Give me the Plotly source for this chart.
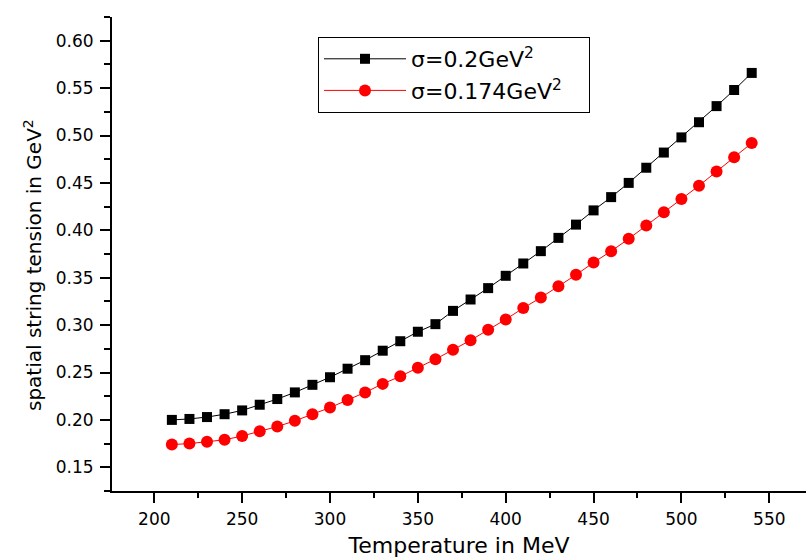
import plotly.graph_objects as go

temperature = [210, 220, 230, 240, 250, 260, 270, 280, 290, 300, 310, 320, 330, 340, 350, 360, 370,
               380, 390, 400, 410, 420, 430, 440, 450, 460, 470, 480, 490, 500, 510, 520, 530, 540]
tension_02 = [0.200, 0.201, 0.203, 0.206, 0.210, 0.216, 0.222, 0.229, 0.237, 0.245, 0.254, 0.263,
              0.273, 0.283, 0.293, 0.301, 0.315, 0.327, 0.339, 0.352, 0.365, 0.378, 0.392, 0.406,
              0.421, 0.435, 0.450, 0.466, 0.482, 0.498, 0.514, 0.531, 0.548, 0.566]
tension_0174 = [0.174, 0.175, 0.177, 0.179, 0.183, 0.188, 0.193, 0.199, 0.206, 0.213, 0.221, 0.229,
                0.238, 0.246, 0.255, 0.264, 0.274, 0.284, 0.295, 0.306, 0.318, 0.329, 0.341, 0.353,
                0.366, 0.378, 0.391, 0.405, 0.419, 0.433, 0.447, 0.462, 0.477, 0.492]
series_names = ["σ=0.2GeV<sup>2</sup>", "σ=0.174GeV<sup>2</sup>"]
x_ticks = [200, 250, 300, 350, 400, 450, 500, 550]
y_ticks = [0.15, 0.20, 0.25, 0.30, 0.35, 0.40, 0.45, 0.50, 0.55, 0.60]
x_title = "Temperature in MeV"
y_title = "spatial string tension in GeV<sup>2</sup>"

FONT = "DejaVu Sans, Liberation Sans, Arial, sans-serif"
L, T, W, H = 112, 17, 806, 558
B = 67
LEGEND_PAD = "\u2002\u2002"  # widens the legend box to the reference's width

fig = go.Figure()
fig.add_trace(go.Scatter(
    x=temperature, y=tension_02, name=series_names[0], mode="lines+markers",
    line=dict(color="black", width=1),
    marker=dict(symbol="square", size=10, color="black"),
))
fig.add_trace(go.Scatter(
    x=temperature, y=tension_0174, name=series_names[1] + LEGEND_PAD, mode="lines+markers",
    line=dict(color="red", width=1),
    marker=dict(symbol="circle", size=12, color="red"),
))

axis_common = dict(
    showgrid=False, zeroline=False, showline=True, linecolor="black", linewidth=2,
    ticks="outside", tickcolor="black", tickwidth=2, ticklen=10,
    tickfont=dict(family=FONT, size=17, color="black"),
)

fig.update_xaxes(
    range=[175.93, 570.9], tickvals=x_ticks, ticktext=[str(v) for v in x_ticks],
    minor=dict(dtick=25, tick0=175, ticks="outside", ticklen=5, tickwidth=2, tickcolor="black"),
    title=dict(text=x_title, font=dict(family=FONT, size=22, color="black"), standoff=14),
    ticklabelstandoff=2,
    **axis_common,
)
fig.update_yaxes(
    range=[0.125, 0.625], tickvals=y_ticks, ticktext=[f"{v:.2f}" for v in y_ticks],
    minor=dict(dtick=0.025, tick0=0.125, ticks="outside", ticklen=6, tickwidth=2, tickcolor="black"),
    ticklabelstandoff=3,
    **axis_common,
)

plot_w = W - L
plot_h = H - T - B
fig.add_annotation(
    text=y_title, textangle=-90, showarrow=False,
    xref="paper", yref="paper",
    x=(33 - L) / plot_w, y=1 - (265 - T) / plot_h,
    xanchor="center", yanchor="middle",
    font=dict(family=FONT, size=20, color="black"),
)

fig.update_layout(
    width=W, height=H,
    margin=dict(l=L, r=0, t=T, b=B),
    paper_bgcolor="white", plot_bgcolor="white",
    showlegend=True,
    legend=dict(
        x=(318 - L) / plot_w, y=1 - (37 - T) / plot_h, xanchor="left", yanchor="top",
        bordercolor="black", borderwidth=1, bgcolor="white",
        font=dict(family=FONT, size=22, color="black"),
        itemwidth=82,
    ),
)

fig.write_html(
    "out.html",
    config={"displayModeBar": False},
    post_script="document.body.style.margin='0';document.body.style.overflow='hidden';",
)
